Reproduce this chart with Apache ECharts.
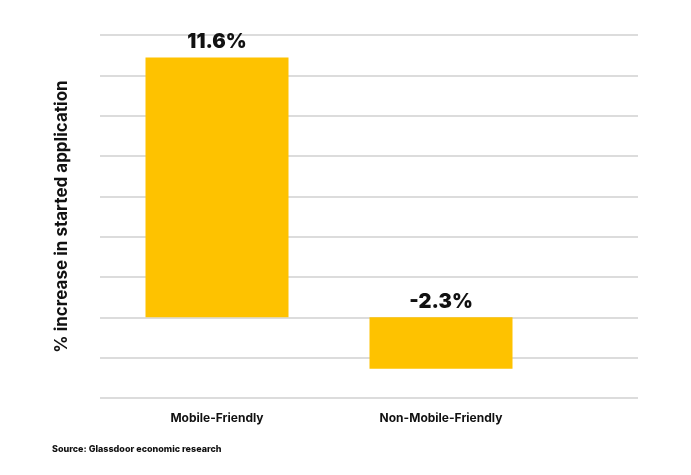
<!DOCTYPE html><html><head><meta charset="utf-8"><script src="https://cdn.jsdelivr.net/npm/echarts@6/dist/echarts.min.js"></script></head><body style="margin:0"><div id="c" style="width:691px;height:475px"></div><script>
const categories=["Mobile-Friendly","Non-Mobile-Friendly"];
const values=[11.6,-2.3];
const labels=["11.6%","-2.3%"];
const yMin=-3.6,yMax=12.6,yStep=1.8;
const ch=echarts.init(document.getElementById('c'));
ch.setOption({
 animation:false,
 grid:[{left:100,right:53,top:35,bottom:77},{left:105,right:138,top:35,bottom:77}],
 graphic:[{type:'text',left:52,top:445,style:{text:'Source: Glassdoor economic research',font:'800 9px Inter',fill:'#111'}}],
 xAxis:[{type:'value',gridIndex:0,show:false},
  {type:'category',gridIndex:1,data:categories,axisLine:{show:false},axisTick:{show:false},
  axisLabel:{interval:0,margin:14,color:'#111',fontFamily:'Inter',fontWeight:'bold',fontSize:12}}],
 yAxis:[{type:'value',gridIndex:0,min:yMin,max:yMax,interval:yStep,axisLabel:{show:false},axisLine:{show:false},axisTick:{show:false},
  splitLine:{lineStyle:{color:'#dcdcdc',width:2}},
  name:'% increase in started application',nameLocation:'middle',nameGap:30,
  nameTextStyle:{color:'#111',fontFamily:'Inter',fontWeight:'bold',fontSize:17}},
  {type:'value',gridIndex:1,min:yMin,max:yMax,interval:yStep,show:false,splitLine:{show:false}}],
 series:[{type:'bar',xAxisIndex:1,yAxisIndex:1,barWidth:143,itemStyle:{color:'#FEC200'},
  data:values.map((v,i)=>({value:v,label:{formatter:labels[i]}})),
  label:{show:true,position:'top',distance:5,color:'#111',fontFamily:'Inter',fontWeight:900,fontSize:20}}]
});
</script></body></html>
